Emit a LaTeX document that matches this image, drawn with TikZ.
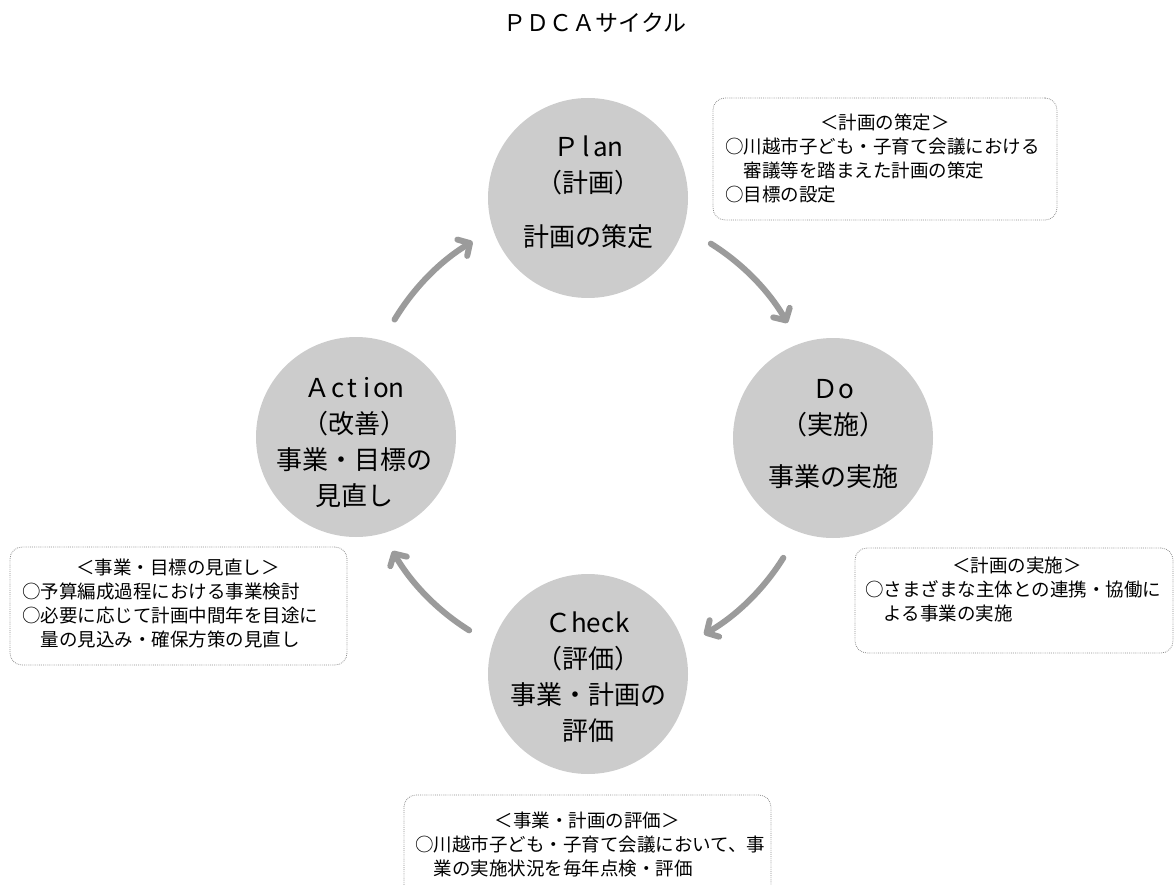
\documentclass[tikz,border=0pt]{standalone}
\usepackage{fontspec}
\setmainfont{Noto Sans CJK JP}
\usetikzlibrary{arrows.meta}
\definecolor{circfill}{RGB}{204,204,204}
\definecolor{arrcol}{RGB}{155,155,155}
\definecolor{bordcol}{RGB}{140,140,140}
\newcommand\hc[1]{\makebox[0.56em]{#1}}
\begin{document}
\begin{tikzpicture}[x=1pt,y=-1pt,
  phase/.style={circle,fill=circfill,minimum size=200pt,inner sep=0pt},
  ptext/.style={align=center,font=\fontsize{26pt}{36pt}\selectfont,inner sep=0pt},
  note/.style={draw=bordcol,line width=0.8pt,dash pattern=on 0.8pt off 1.1pt,rounded corners=12pt,inner sep=0pt},
  ntext/.style={align=left,font=\fontsize{18.5pt}{24pt}\selectfont,inner sep=0pt,anchor=north west},
  cyc/.style={draw=arrcol,line width=6pt,line cap=round,-{Straight Barb[length=9pt,width=19pt,round]}},
]
\useasboundingbox (0,0) rectangle (1175,885);

\node[font=\fontsize{23pt}{28pt}\selectfont,inner sep=0pt] (title) at (595,23) {ＰＤＣＡサイクル};

\coordinate (ctr) at (590,437);

\node[phase] (P) at (588,198) {};
\node[phase] (D) at (833,438) {};
\node[phase] (C) at (588,674) {};
\node[phase] (A) at (356,437) {};

\node[ptext] (Pt) at (588,194) {\strut Ｐ\hc{l}\hc{a}\hc{n}\\\strut（計画）\\[18pt]\strut 計画の策定};
\node[ptext] (Dt) at (833,435) {\strut Ｄ\hc{o}\\\strut（実施）\\[16pt]\strut 事業の実施};
\node[ptext] (At) at (354,444) {\strut Ａ\hc{c}\hc{t}\hc{i}\hc{o}\hc{n}\\\strut（改善）\\\strut 事業・目標の\\\strut 見直し};
\node[ptext] (Ct) at (588,679) {\strut Ｃ\hc{h}\hc{e}\hc{c}\hc{k}\\\strut（評価）\\\strut 事業・計画の\\\strut 評価};

\draw[cyc] ([shift={(58:228pt)}]ctr) arc[start angle=58,end angle=30,radius=228pt];
\draw[cyc] ([shift={(-32:228pt)}]ctr) arc[start angle=-32,end angle=-60,radius=228pt];
\draw[cyc] ([shift={(-122:228pt)}]ctr) arc[start angle=-122,end angle=-150,radius=228pt];
\draw[cyc] ([shift={(149:228pt)}]ctr) arc[start angle=149,end angle=121,radius=228pt];

\node[note,minimum width=344pt,minimum height=122pt] (Pbox) at (885,159) {};
\node[note,minimum width=318pt,minimum height=105pt] (Dbox) at (1014,600.5) {};
\node[note,minimum width=337pt,minimum height=118pt] (Abox) at (178.5,606) {};
\node[note,minimum width=367pt,minimum height=130pt] (Cbox) at (587.5,860) {};

\node[ntext,text width=320pt] (Ptx) at (725,113) {\strut\makebox[320pt][c]{＜計画の策定＞}\\\strut ○川越市子ども・子育て会議における\\\strut 　審議等を踏まえた計画の策定\\\strut ○目標の設定};
\node[ntext,text width=304pt] (Dtx) at (865,555) {\strut\makebox[304pt][c]{＜計画の実施＞}\\\strut ○さまざまな主体との連携・協働に\\\strut 　よる事業の実施};
\node[ntext,text width=312pt] (Atx) at (22,557) {\strut\makebox[312pt][c]{＜事業・目標の見直し＞}\\\strut ○予算編成過程における事業検討\\\strut ○必要に応じて計画中間年を目途に\\\strut 　量の見込み・確保方策の見直し};
\node[ntext,text width=344pt] (Ctx) at (415,810) {\strut\makebox[344pt][c]{＜事業・計画の評価＞}\\\strut ○川越市子ども・子育て会議において、事\\\strut 　業の実施状況を毎年点検・評価};
\end{tikzpicture}
\end{document}
